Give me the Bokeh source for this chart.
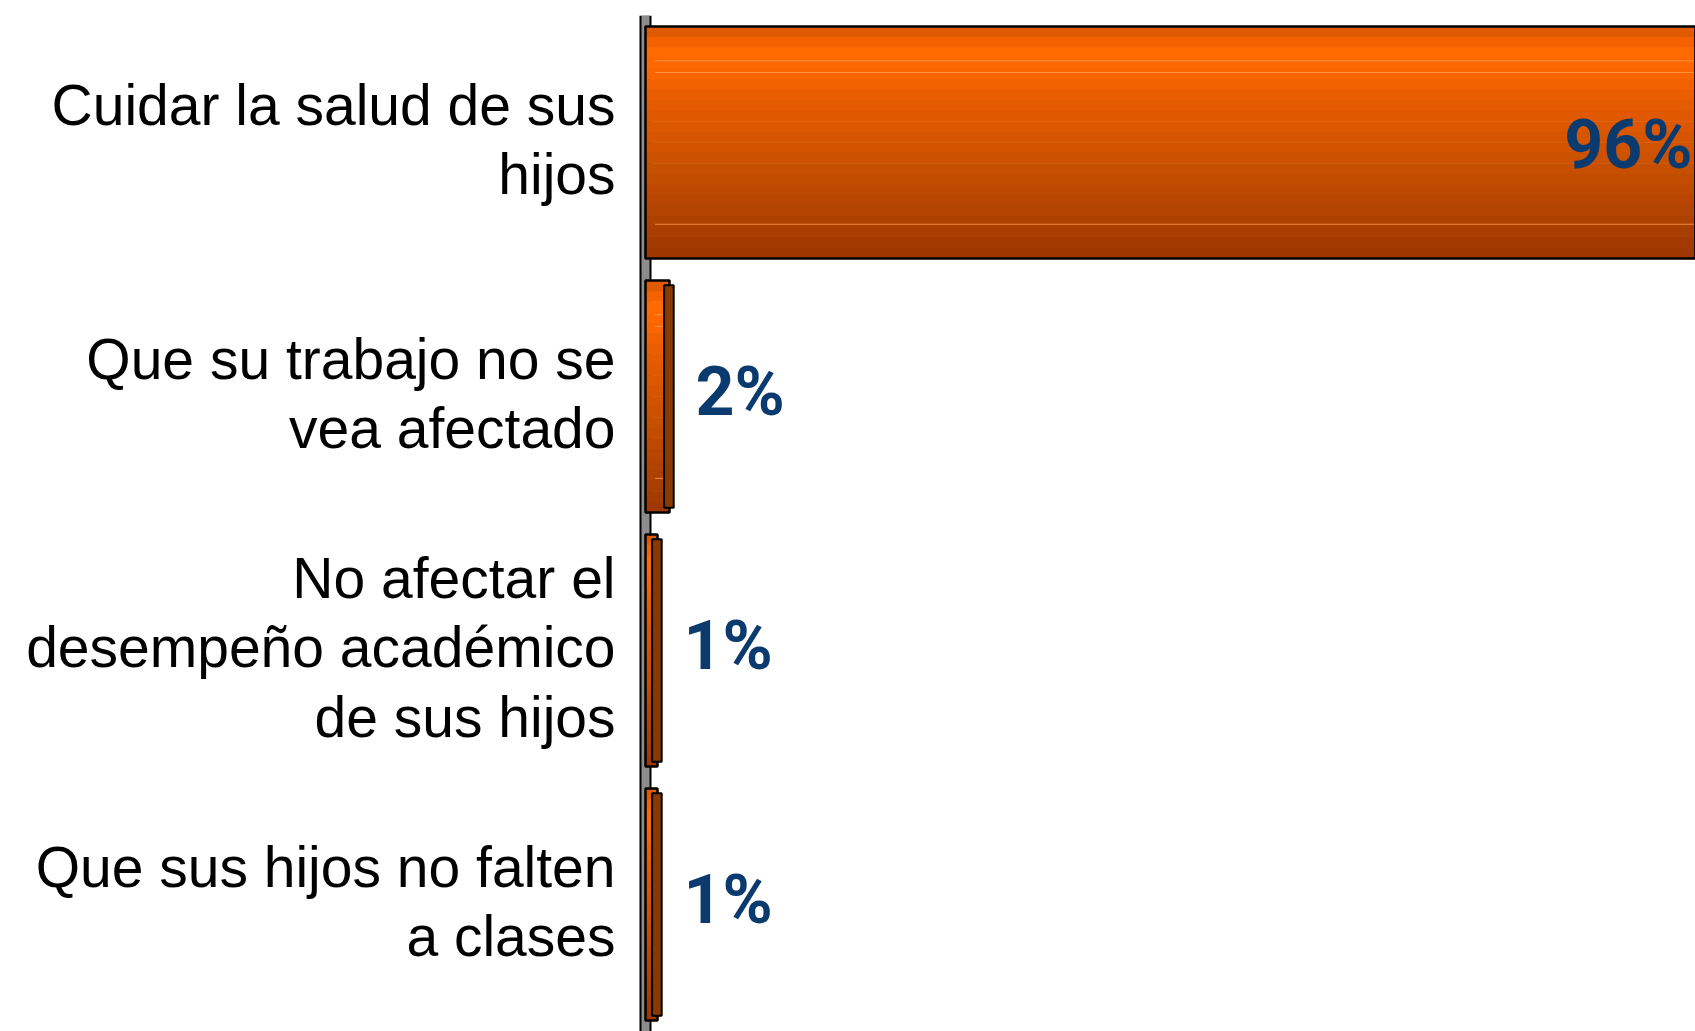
from bokeh.plotting import figure
from bokeh.models import ColumnDataSource, FactorRange, Span
from bokeh.transform import dodge
from bokeh.core.properties import value
from bokeh.embed import file_html
from bokeh.resources import INLINE

# ---- data ----
categories = [
    "Cuidar la salud de sus hijos",
    "Que su trabajo no se vea afectado",
    "No afectar el desempeño académico de sus hijos",
    "Que sus hijos no falten a clases",
]
label_lines = [
    "Cuidar la salud de sus\nhijos",
    "Que su trabajo no se\nvea afectado",
    "No afectar el\ndesempeño académico\nde sus hijos",
    "Que sus hijos no falten\na clases",
]
values = [96, 2, 1, 1]
value_labels = ["96%", "2%", "1%", "1%"]

X_START, X_END = -53.75, 87.5

p = figure(
    width=1695, height=1031,
    y_range=FactorRange(factors=categories[::-1], range_padding=0),
    x_range=(X_START, X_END),
    output_backend="svg", toolbar_location=None,
    min_border_left=0, min_border_right=0, min_border_top=15, min_border_bottom=0,
)
p.outline_line_color = None
p.grid.grid_line_color = None
p.xaxis.visible = False
p.yaxis.visible = False

# wall / axis (drawn beneath the bars)
p.add_layout(Span(location=0, dimension="height", line_color="#000000", line_width=12, level="underlay"))
p.add_layout(Span(location=0, dimension="height", line_color="#8c8c8c", line_width=8, level="underlay"))

src = ColumnDataSource(dict(cat=categories, val=values, lab=label_lines))

BAR_H = 0.913
grad = ["#e05a00", "#f46200", "#ff6a00", "#ff6800", "#fa6500", "#f26100",
        "#eb5e00", "#e55b00", "#e05900", "#db5700", "#d65500", "#d15300",
        "#cc5100", "#c74f00", "#c24c00", "#bd4900", "#b84600", "#b34300",
        "#ad4100", "#a83e00", "#a33b00", "#9e3800"]
N = len(grad)
sh = BAR_H / N
for k, c in enumerate(grad):
    off = BAR_H / 2 - sh * (k + 0.5)
    p.hbar(y=dodge("cat", off, range=p.y_range), left=0, right="val", height=sh * 1.05,
           source=src, fill_color=c, line_color=None)

# faint highlight lines across the bars
for frac in (0.147, 0.198, 0.853):
    p.hbar(y=dodge("cat", BAR_H / 2 - frac * BAR_H, range=p.y_range), left=0.8, right="val",
           height=0.004, source=src, fill_color="#ff9a55", fill_alpha=0.8, line_color=None)

# outline of the front face
p.hbar(y="cat", left=0, right="val", height=BAR_H, source=src,
       fill_color=None, line_color="#000000", line_width=2.5)

# darker side face (3-D depth)
side = ColumnDataSource(dict(cat=categories,
                             left=[v - 0.45 for v in values],
                             right=[v + 0.35 for v in values]))
p.hbar(y="cat", left="left", right="right", height=BAR_H * 0.96, source=side,
       fill_color="#8a3a00", line_color="#000000", line_width=2)

# category labels
p.text(x=0, y="cat", text="lab", source=src, text_align="right", text_baseline="middle",
       x_offset=-30, y_offset=-3, text_line_height=1.08,
       text_font=value("Liberation Sans"), text_font_size="57px", text_color="#000000")

# value labels
inside = dict(cat=[], x=[], t=[])
outside = dict(cat=[], x=[], t=[])
for c, v, t in zip(categories, values, value_labels):
    if v > X_END:
        inside["cat"].append(c); inside["x"].append(X_END); inside["t"].append(t)
    else:
        outside["cat"].append(c); outside["x"].append(v); outside["t"].append(t)

lab_font = value("Roboto")
p.text(x="x", y="cat", text="t", source=ColumnDataSource(inside),
       text_align="right", text_baseline="middle", x_offset=-3, y_offset=2,
       text_font=lab_font, text_font_style="bold", text_font_size="68px", text_color="#0b3a6e")
p.text(x="x", y="cat", text="t", source=ColumnDataSource(outside),
       text_align="left", text_baseline="middle", x_offset=26, y_offset=-5,
       text_font=lab_font, text_font_style="bold", text_font_size="68px", text_color="#0b3a6e")

open("out.html", "w").write(file_html(p, INLINE))
